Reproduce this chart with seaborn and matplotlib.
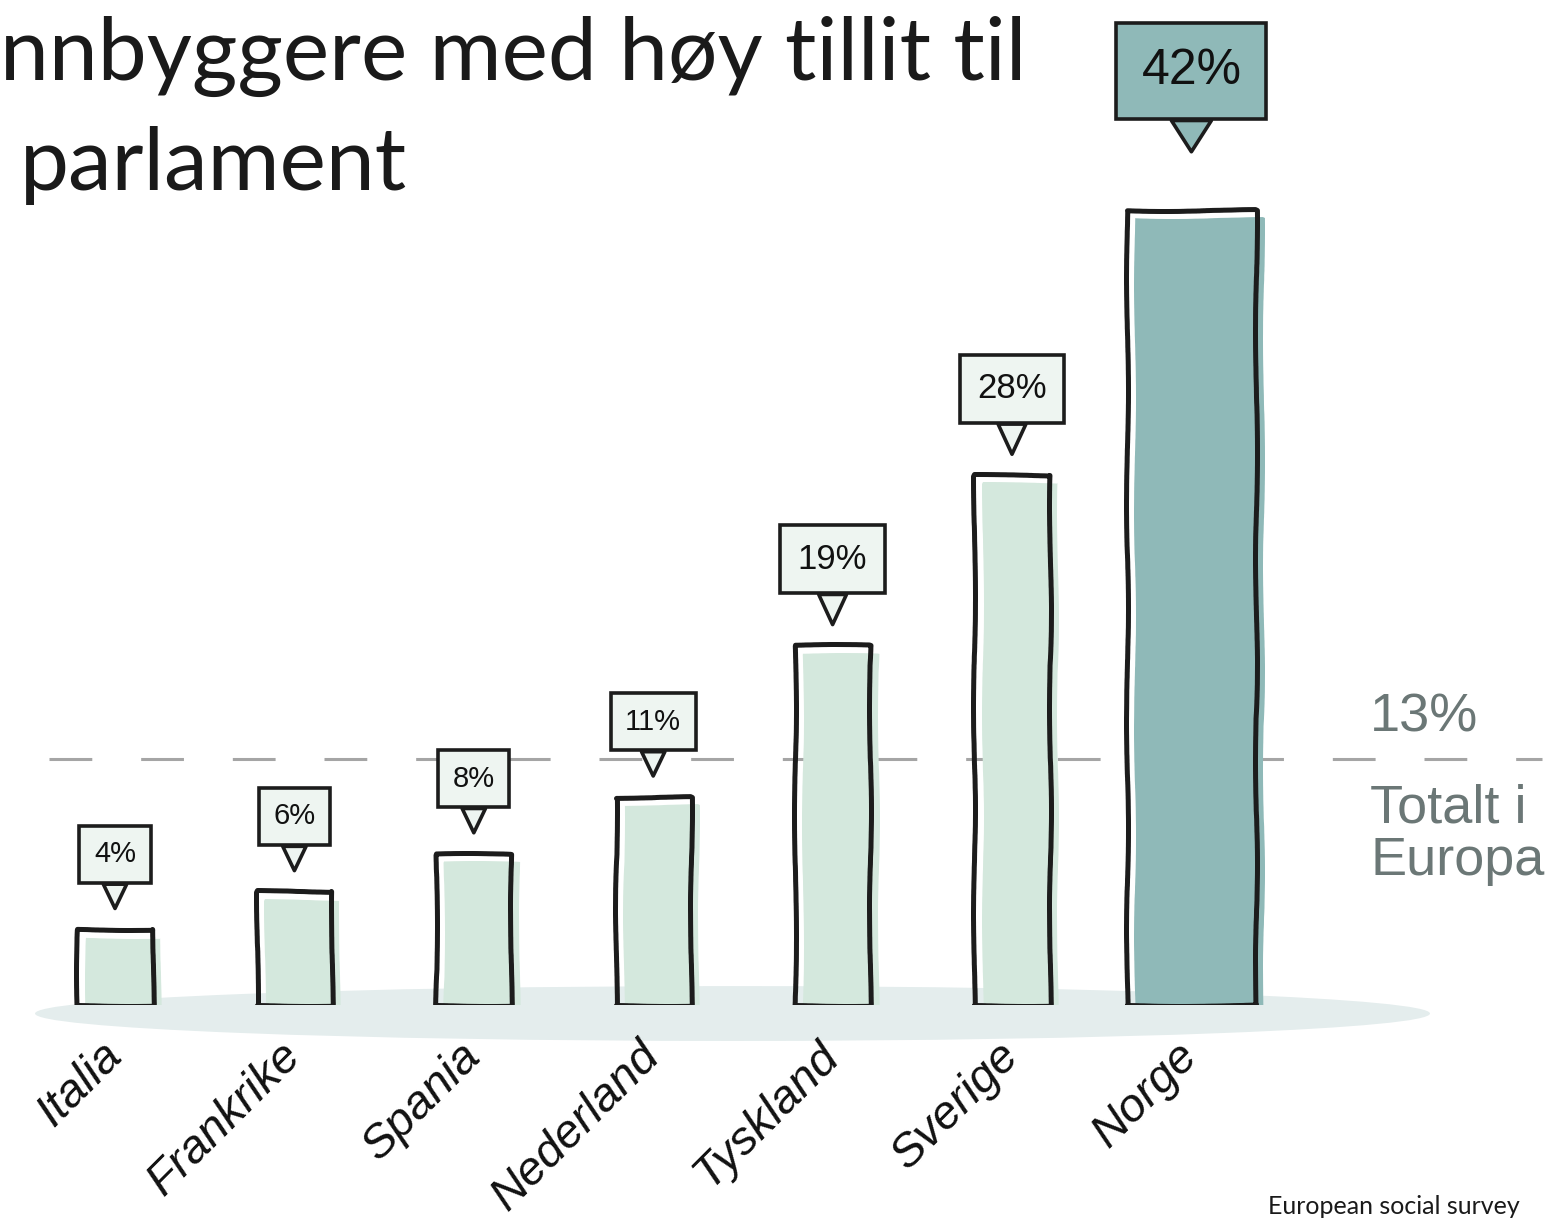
import matplotlib
matplotlib.use("Agg")
import matplotlib.pyplot as plt
import matplotlib.patheffects as pe
from matplotlib.patches import Ellipse
from matplotlib.transforms import blended_transform_factory
import seaborn as sns
import pandas as pd

# ---- data ----
countries = ["Italia", "Frankrike", "Spania", "Nederland", "Tyskland", "Sverige", "Norge"]
trust_pct = [4, 6, 8, 11, 19, 28, 42]
europe_avg = 13
highlight = "Norge"
title_lines = ["nnbyggere med høy tillit til", "parlament"]
avg_label = "Totalt i\nEuropa"
source_text = "European social survey"

# ---- style ----
sns.set_theme(style="white")
plt.rcParams["font.family"] = ["Liberation Sans", "DejaVu Sans"]

LIGHT = "#d4e8dd"
TEAL = "#8fb9b8"
INK = "#1c1c1c"
GREY = "#6b7776"

W, H = 1552, 1221
fig = plt.figure(figsize=(W / 100, H / 100), dpi=100)
ax = fig.add_axes([35 / W, 1 - 1005 / H, (1430 - 35) / W, 1005 / H])

df = pd.DataFrame({"land": countries, "andel": trust_pct})
others = df[df["land"] != highlight]
top = df[df["land"] == highlight]

sns.barplot(data=others, x="land", y="andel", order=countries, width=0.42,
            color=LIGHT, saturation=1, ax=ax)
sns.barplot(data=top, x="land", y="andel", order=countries, width=0.72,
            color=TEAL, saturation=1, ax=ax)

# hand-drawn look: offset fill + dark outline
for p in ax.patches:
    fc = p.get_facecolor()
    p.set_facecolor("none")
    p.set_edgecolor(INK)
    p.set_linewidth(3.6)
    p.set_joinstyle("round")
    p.set_sketch_params(scale=1.0, length=300, randomness=4)
    p.set_path_effects([pe.SimplePatchShadow(offset=(6, -6), shadow_rgbFace=fc, alpha=1.0),
                        pe.Normal()])
    p.set_zorder(3)

ax.set_xlim(-0.446, 7.33)
ax.set_ylim(0, 53.1)

# ground shadow ellipse
blend = blended_transform_factory(ax.transAxes, ax.transData)
ax.add_patch(Ellipse((0.5, -0.45), width=1.0, height=2.9, transform=blend,
                     facecolor="#e4eded", edgecolor="none", clip_on=False, zorder=0.2))

# Europe average dashed line
ax.axhline(europe_avg, xmin=0.01, xmax=1.08, color="#a5a5a5", lw=2.2,
           dashes=(14, 16), clip_on=False, zorder=0.5)
ax.annotate(f"{europe_avg}%", xy=(0.957, europe_avg), xycoords=blend,
            xytext=(0, 12), textcoords="offset points", ha="left", va="bottom",
            fontsize=39, color=GREY, annotation_clip=False)
ax.annotate(avg_label, xy=(0.957, europe_avg), xycoords=blend,
            xytext=(0, -18), textcoords="offset points", ha="left", va="top",
            fontsize=39, color=GREY, linespacing=1.05, annotation_clip=False)

# speech-bubble value labels
for i, (c, v) in enumerate(zip(countries, trust_pct)):
    big = c == highlight
    bfc = TEAL if big else "#eef5f1"
    fs = 36 if big else (25 if v >= 19 else 21)
    off = 100 if big else (62 if v >= 19 else 54)
    tip = 42 if big else 15
    ax.annotate(f"{v}%", xy=(i, v), xytext=(0, off), textcoords="offset points",
                ha="center", va="center", fontsize=fs, color="#111111", zorder=5,
                bbox=dict(boxstyle="square,pad=0.5", fc=bfc, ec=INK, lw=2.6),
                arrowprops=dict(arrowstyle="wedge,tail_width=0.8,shrink_factor=0.5",
                                fc=bfc, ec=INK, lw=2.6, shrinkA=0, shrinkB=tip))

# axes cosmetics
sns.despine(ax=ax, left=True, bottom=True)
ax.set_yticks([])
ax.set_xlabel("")
ax.set_ylabel("")
ax.grid(False)
ax.tick_params(axis="x", length=0, pad=32)
for lab in ax.get_xticklabels():
    lab.set_rotation(45)
    lab.set_ha("right")
    lab.set_va("center")
    lab.set_rotation_mode("anchor")
    lab.set_fontsize(34)
    lab.set_fontstyle("italic")
    lab.set_color("#111111")

# title (cropped in the reference)
fig.text(0 / W, 1 - 80 / H, title_lines[0], fontsize=63, family=["Lato", "DejaVu Sans"],
         ha="left", va="baseline", color="#1a1a1a")
fig.text(20 / W, 1 - 190 / H, title_lines[1], fontsize=63, family=["Lato", "DejaVu Sans"],
         ha="left", va="baseline", color="#1a1a1a")

# source
fig.text(1268 / W, 1 - 1218 / H, source_text, fontsize=18, family=["Lato", "DejaVu Sans"],
         ha="left", va="bottom", color="#1a1a1a")

fig.savefig("out.png", dpi=100)
